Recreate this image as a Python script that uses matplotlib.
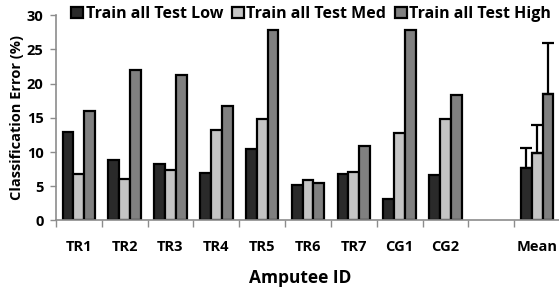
import numpy as np
import matplotlib
matplotlib.use("Agg")
import matplotlib.pyplot as plt

categories = ["TR1", "TR2", "TR3", "TR4", "TR5", "TR6", "TR7", "CG1", "CG2", "", "Mean"]
low = [13.0, 8.9, 8.2, 6.9, 10.4, 5.2, 6.8, 3.1, 6.6, np.nan, 7.6]
med = [6.8, 6.0, 7.4, 13.2, 14.9, 5.9, 7.1, 12.8, 14.8, np.nan, 9.9]
high = [16.0, 22.0, 21.3, 16.7, 27.9, 5.5, 10.9, 27.9, 18.3, np.nan, 18.5]
err_low = [0, 0, 0, 0, 0, 0, 0, 0, 0, 0, 3.0]
err_med = [0, 0, 0, 0, 0, 0, 0, 0, 0, 0, 4.0]
err_high = [0, 0, 0, 0, 0, 0, 0, 0, 0, 0, 7.4]
series_names = ["Train all Test Low", "Train all Test Med", "Train all Test High"]
colors = ["#2a2a2a", "#c4c4c4", "#808080"]

plt.rcParams['font.family'] = ['Open Sans', 'DejaVu Sans']
plt.rcParams['font.weight'] = 'bold'

fig = plt.figure(figsize=(5.59, 2.92), dpi=100)
ax = fig.add_axes([0.100, 0.245, 0.902, 0.703])

x = np.arange(len(categories))
w = 0.236
grey = "#8c8c8c"
for i, (vals, errs) in enumerate(zip([low, med, high], [err_low, err_med, err_high])):
    xs = x + (i - 1) * w
    ax.bar(xs, vals, width=w, color=colors[i], edgecolor="black", linewidth=1.6,
           label=series_names[i], zorder=2)
    idx = [k for k, e in enumerate(errs) if e > 0]
    ax.errorbar(xs[idx], np.array(vals)[idx], yerr=[np.zeros(len(idx)), np.array(errs)[idx]],
                fmt="none", ecolor="black", elinewidth=1.6, capsize=4.5, capthick=1.6, zorder=3)

ax.set_xlim(-0.5, len(categories) - 0.5)
ax.set_ylim(0, 30)
ax.set_yticks([0, 5, 10, 15, 20, 25, 30])
ax.set_xticks(x)
ax.set_xticklabels(categories, fontsize=10.5, fontweight='bold')
ax.set_xticks(np.arange(-0.5, len(categories) - 0.4, 1), minor=True)
ax.tick_params(axis='x', which='major', length=0, pad=14)
ax.tick_params(axis='x', which='minor', length=5, color=grey, width=1, direction='out')
ax.tick_params(axis='y', length=4, color=grey, width=1, labelsize=10.5, pad=5)
for lab in ax.get_yticklabels():
    lab.set_fontweight('bold')

for s in ["top", "right"]:
    ax.spines[s].set_visible(False)
for s in ["left", "bottom"]:
    ax.spines[s].set_color(grey)
    ax.spines[s].set_linewidth(1.2)

ax.set_xlabel("Amputee ID", fontsize=12.5, fontweight='bold')
ax.xaxis.set_label_coords(0.485, -0.235)
ax.set_ylabel("Classification Error (%)", fontsize=10.5, fontweight='bold', labelpad=2)

handles, labels = ax.get_legend_handles_labels()
fig.legend(handles, labels, loc="upper center", bbox_to_anchor=(0.557, 1.028), ncol=3,
           frameon=False, handlelength=0.75, handleheight=0.75,
           handletextpad=0.15, columnspacing=0.55, prop={'weight': 'bold', 'size': 11.5})

fig.savefig("out.png", dpi=100)
